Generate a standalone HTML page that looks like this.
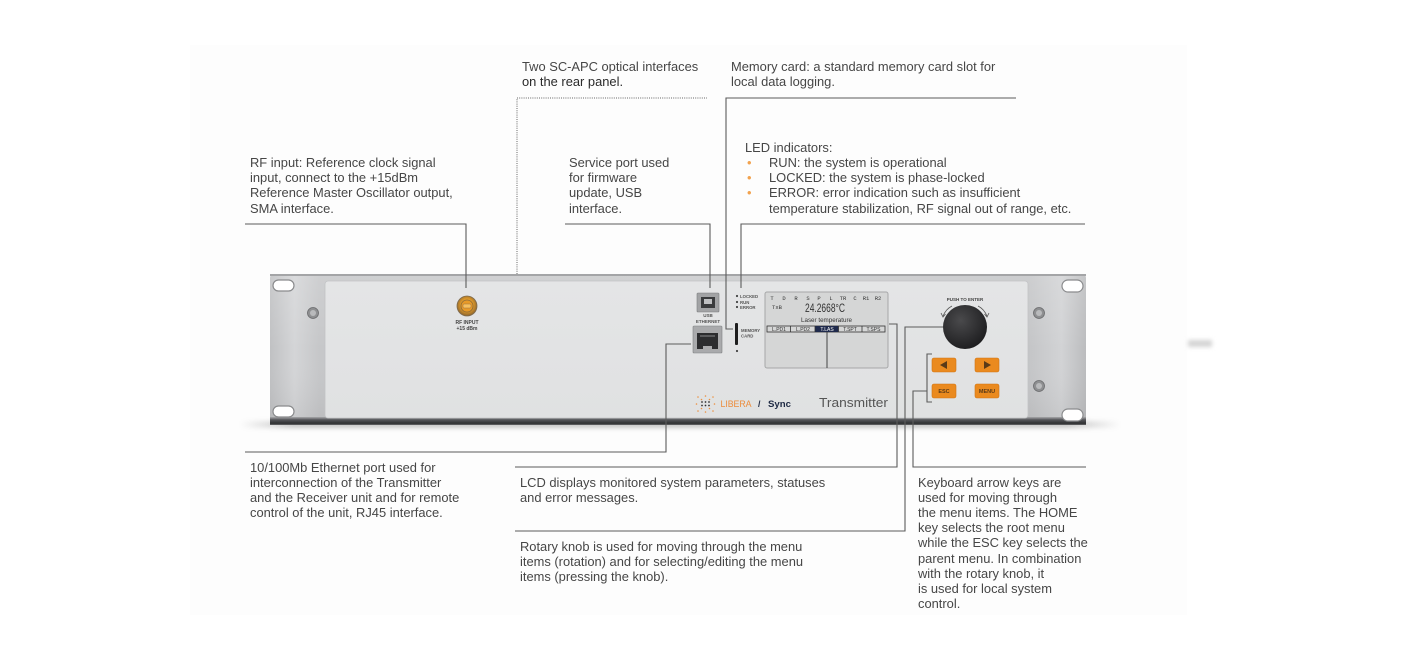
<!DOCTYPE html>
<html><head><meta charset="utf-8">
<style>
html,body{margin:0;padding:0;background:#fff;}
#c{position:relative;width:1406px;height:646px;overflow:hidden;background:#fff;font-family:"Liberation Sans",Arial,sans-serif;}
svg{position:absolute;left:0;top:0;}
.t{position:absolute;font-size:12.9px;line-height:15.2px;color:#464646;white-space:nowrap;}
.d{color:#2a2a2a;}
.bl{position:absolute;left:2px;color:#f2a24e;}
</style></head><body><div id="c">
<svg width="1406" height="646" viewBox="0 0 1406 646">
<defs>
<linearGradient id="rack" x1="0" y1="0" x2="1" y2="0">
<stop offset="0" stop-color="#c0c1c3"/><stop offset="0.03" stop-color="#d4d5d7"/><stop offset="0.06" stop-color="#c6c7c9"/>
<stop offset="0.5" stop-color="#c9cacc"/><stop offset="0.93" stop-color="#c4c5c7"/><stop offset="0.97" stop-color="#d2d3d5"/><stop offset="1" stop-color="#bbbcbe"/>
</linearGradient>
<linearGradient id="rackv" x1="0" y1="0" x2="0" y2="1">
<stop offset="0" stop-color="#ffffff" stop-opacity="0.15"/><stop offset="0.5" stop-color="#ffffff" stop-opacity="0"/><stop offset="1" stop-color="#000" stop-opacity="0.06"/>
</linearGradient>
<linearGradient id="panel" x1="0" y1="0" x2="0" y2="1">
<stop offset="0" stop-color="#e4e5e6"/><stop offset="1" stop-color="#e0e1e2"/>
</linearGradient>
<linearGradient id="band" x1="0" y1="0" x2="0" y2="1">
<stop offset="0" stop-color="#a8a9ab"/><stop offset="0.35" stop-color="#55565a"/><stop offset="0.8" stop-color="#2e2f31"/><stop offset="1" stop-color="#6a6b6d"/>
</linearGradient>
<linearGradient id="shad" x1="0" y1="0" x2="1" y2="0">
<stop offset="0" stop-color="#000" stop-opacity="0"/><stop offset="0.06" stop-color="#000" stop-opacity="0.22"/>
<stop offset="0.94" stop-color="#000" stop-opacity="0.22"/><stop offset="1" stop-color="#000" stop-opacity="0"/>
</linearGradient>
<radialGradient id="sma" cx="0.5" cy="0.45" r="0.6">
<stop offset="0" stop-color="#ffd070"/><stop offset="0.5" stop-color="#e09a2a"/><stop offset="1" stop-color="#7a5a30"/>
</radialGradient>
<radialGradient id="knob" cx="0.4" cy="0.35" r="0.7">
<stop offset="0" stop-color="#4a4a4c"/><stop offset="1" stop-color="#1c1c1e"/>
</radialGradient>
<filter id="blur" x="-10%" y="-300%" width="120%" height="700%"><feGaussianBlur stdDeviation="2.5"/></filter>
<filter id="blur2" x="-50%" y="-200%" width="200%" height="500%"><feGaussianBlur stdDeviation="2"/></filter>
</defs>

<rect x="190" y="45" width="997" height="570" fill="#fdfdfd"/>
<rect x="1188" y="340" width="24" height="7" fill="#d4d4d4" filter="url(#blur2)"/>

<!-- shadow -->
<rect x="240" y="421" width="880" height="7" fill="url(#shad)" filter="url(#blur)"/>

<!-- rack -->
<rect x="270" y="274" width="816" height="151" rx="4" fill="url(#rack)"/>
<rect x="270" y="274" width="816" height="151" rx="4" fill="url(#rackv)"/>
<rect x="270" y="274" width="816" height="2" fill="#a4a5a7"/>
<rect x="270" y="417" width="816" height="8" fill="url(#band)"/>

<!-- slots -->
<rect x="273" y="280" width="21" height="11" rx="5.5" fill="#fff" stroke="#8a8b8d" stroke-width="1.2"/>
<rect x="273" y="406" width="21" height="11" rx="5.5" fill="#fff" stroke="#8a8b8d" stroke-width="1.2"/>
<rect x="1062" y="280" width="21" height="12" rx="6" fill="#fff" stroke="#8a8b8d" stroke-width="1.2"/>
<rect x="1062" y="409" width="21" height="12" rx="6" fill="#fff" stroke="#8a8b8d" stroke-width="1.2"/>
<!-- screws -->
<g fill="#8e8f91" stroke="#6a6b6d" stroke-width="0.8">
<circle cx="313" cy="313" r="5.5"/><circle cx="1039" cy="313" r="5.5"/><circle cx="1039" cy="386" r="5.5"/>
</g>
<g fill="#b9babc"><circle cx="313" cy="313" r="3"/><circle cx="1039" cy="313" r="3"/><circle cx="1039" cy="386" r="3"/></g>

<!-- inner panel -->
<rect x="325" y="281" width="703" height="137" rx="3" fill="url(#panel)" stroke="#c2c3c5" stroke-width="0.8"/>

<!-- SMA -->
<circle cx="467" cy="306" r="10" fill="url(#sma)" stroke="#7d6a50" stroke-width="0.8"/>
<circle cx="467" cy="306" r="6" fill="#e89a28" stroke="#8a6a3a" stroke-width="0.8"/>
<rect x="463" y="304" width="8" height="4" rx="1" fill="#f6c060" stroke="#9a7040" stroke-width="0.5"/>
<text x="467" y="324" font-size="5" font-weight="bold" fill="#444" text-anchor="middle">RF INPUT</text>
<text x="467" y="330" font-size="5" font-weight="bold" fill="#444" text-anchor="middle">+15 dBm</text>

<!-- USB -->
<rect x="697" y="293" width="22" height="19" rx="1" fill="#a2a3a5" stroke="#7c7d7f" stroke-width="0.6"/>
<rect x="701" y="297" width="14" height="11" fill="#3a3b3d"/>
<rect x="704" y="299" width="8" height="5" fill="#bfc0c2"/>
<text x="708" y="317" font-size="4.5" font-weight="bold" fill="#555" text-anchor="middle">USB</text>
<text x="708" y="323" font-size="4.5" font-weight="bold" fill="#555" text-anchor="middle">ETHERNET</text>
<!-- Ethernet -->
<rect x="693" y="326" width="29" height="27" rx="1" fill="#a9aaac" stroke="#7f8082" stroke-width="0.6"/>
<rect x="697" y="333" width="21" height="16" fill="#2c2d2f"/>
<rect x="703" y="346" width="9" height="3" fill="#a9aaac"/>
<rect x="700" y="335" width="15" height="2" fill="#5a5b5d"/>

<!-- LEDs -->
<g fill="#444"><circle cx="737" cy="296" r="1.1"/><circle cx="737" cy="302" r="1.1"/><circle cx="737" cy="307" r="1.1"/><circle cx="737" cy="351" r="1.1"/></g>
<g font-size="4.3" font-weight="bold" fill="#555">
<text x="740" y="298">LOCKED</text><text x="740" y="304">RUN</text><text x="740" y="309">ERROR</text>
<text x="741" y="332">MEMORY</text><text x="741" y="337.5">CARD</text>
</g>
<rect x="735" y="323" width="3" height="22" rx="1" fill="#1e1e1e"/>

<!-- LCD -->
<rect x="765" y="292" width="123" height="76" rx="2" fill="#d5d6d6" stroke="#a6a7a8" stroke-width="1"/>
<g font-family="Liberation Mono, monospace" font-size="5.5" fill="#333" text-anchor="middle">
<text x="772" y="300">T</text><text x="784" y="300">D</text><text x="796" y="300">R</text><text x="808" y="300">S</text><text x="819" y="300">P</text>
<text x="831" y="300">L</text><text x="843" y="300">TR</text><text x="855" y="300">C</text><text x="866" y="300">R1</text><text x="878" y="300">R2</text>
<text x="777" y="309">TxB</text>
</g>
<text x="805" y="312" font-size="11.5" fill="#333" textLength="40" lengthAdjust="spacingAndGlyphs">24.2668°C</text>
<text x="801" y="322" font-size="6" fill="#333" textLength="51" lengthAdjust="spacingAndGlyphs">Laser temperature</text>
<rect x="767" y="326" width="118" height="6" fill="none" stroke="#333" stroke-width="0.8"/>
<rect x="815" y="326" width="23.5" height="6" fill="#1f2a4c"/>
<g stroke="#333" stroke-width="0.8"><line x1="790.6" y1="326" x2="790.6" y2="332"/><line x1="815" y1="326" x2="815" y2="332"/><line x1="838.5" y1="326" x2="838.5" y2="332"/><line x1="862" y1="326" x2="862" y2="332"/></g>
<g font-size="5" fill="#333" text-anchor="middle">
<text x="779" y="331">L.PD1</text><text x="803" y="331">L.PD2</text><text x="827" y="331" fill="#fff">T.LAS</text><text x="850" y="331">T.SPT</text><text x="873.5" y="331">T.SPS</text>
</g>
<line x1="827" y1="332" x2="827" y2="368" stroke="#444" stroke-width="1"/>

<!-- knob -->
<text x="965" y="301" font-size="4.5" font-weight="bold" fill="#444" text-anchor="middle">PUSH TO ENTER</text>
<path d="M952,306 Q946,309 943,316" fill="none" stroke="#555" stroke-width="0.8"/>
<path d="M941,313 L943,317 L945.5,314" fill="none" stroke="#555" stroke-width="0.8"/>
<path d="M978,306 Q984,309 987,316" fill="none" stroke="#555" stroke-width="0.8"/>
<path d="M984.5,314 L987,317 L989,313" fill="none" stroke="#555" stroke-width="0.8"/>
<circle cx="965" cy="327" r="22" fill="url(#knob)"/>

<!-- buttons -->
<g fill="#ea8a1f" stroke="#d07414" stroke-width="0.6">
<rect x="932" y="358" width="24" height="14" rx="2"/><rect x="975" y="358" width="24" height="14" rx="2"/>
<rect x="932" y="384" width="24" height="14" rx="2"/><rect x="975" y="384" width="24" height="14" rx="2"/>
</g>
<path d="M940,365 L947,361 L947,369 Z" fill="#5a3a18"/>
<path d="M991,365 L984,361 L984,369 Z" fill="#5a3a18"/>
<text x="944" y="393" font-size="5.5" font-weight="bold" fill="#5a3a18" text-anchor="middle">ESC</text>
<text x="987" y="393" font-size="5.5" font-weight="bold" fill="#5a3a18" text-anchor="middle">MENU</text>

<!-- logo -->
<g fill="#ec9040">
<circle cx="698" cy="397" r="0.8"/><circle cx="705.5" cy="396" r="0.8"/><circle cx="713" cy="397" r="0.8"/>
<circle cx="696.5" cy="404" r="0.8"/><circle cx="714.5" cy="404" r="0.8"/>
<circle cx="698" cy="411" r="0.8"/><circle cx="705.5" cy="412" r="0.8"/><circle cx="713" cy="411" r="0.8"/>
<circle cx="701.5" cy="399.5" r="0.8"/><circle cx="709.5" cy="399.5" r="0.8"/><circle cx="701.5" cy="408.5" r="0.8"/><circle cx="709.5" cy="408.5" r="0.8"/>
</g>
<g fill="#333">
<circle cx="702" cy="402" r="0.9"/><circle cx="705.5" cy="402" r="0.9"/><circle cx="709" cy="402" r="0.9"/>
<circle cx="702" cy="405.5" r="0.9"/><circle cx="705.5" cy="405.5" r="0.9"/><circle cx="709" cy="405.5" r="0.9"/>
</g>
<text x="720.5" y="407" font-size="8.8" fill="#ec8c3c" textLength="32" lengthAdjust="spacing" letter-spacing="1">LIBERA</text>
<text x="758" y="407" font-size="8.8" font-weight="bold" fill="#1e2a44">/</text>
<text x="768" y="407" font-size="9" font-weight="bold" fill="#1e2a44" textLength="23" lengthAdjust="spacingAndGlyphs">Sync</text>
<text x="819" y="407" font-size="13.2" fill="#555" textLength="69" lengthAdjust="spacingAndGlyphs">Transmitter</text>

<!-- connectors -->
<g fill="none" stroke="#5c5c5c" stroke-width="1.1">
<polyline points="245,224 466,224 466,288"/>
<polyline points="565,224 710,224 710,288"/>
<polyline points="1016,98 726,98 726,329 733,329"/>
<polyline points="1085,224 741,224 741,288"/>
<polyline points="245,452 666,452 666,344 691,344"/>
<polyline points="515,467 897,467 897,324 889,324"/>
<polyline points="515,531 905,531 905,327 943,327"/>
<polyline points="1086,467 913,467 913,391 927,391"/>
<polyline points="932,354 927,354 927,402 932,402"/>
</g>
<polyline points="517,274 517,98 707,98" fill="none" stroke="#666" stroke-width="1" stroke-dasharray="1,1.2"/>
</svg>

<div class="t" style="left:522px;top:59px;">Two SC-APC optical interfaces<br><span class="d">on the rear panel.</span></div>
<div class="t" style="left:731px;top:59px;">Memory card: a standard memory card slot for<br>local data logging.</div>
<div class="t" style="left:250px;top:155px;">RF input: Reference clock signal<br>input, connect to the +15dBm<br>Reference Master Oscillator output,<br>SMA interface.</div>
<div class="t" style="left:569px;top:155px;">Service port used<br>for firmware<br>update, USB<br>interface.</div>
<div class="t" style="left:745px;top:140px;">LED indicators:</div>
<div class="t" style="left:745px;top:155px;width:340px;">
<span class="bl" style="top:0">•</span><span class="bl" style="top:15.2px">•</span><span class="bl" style="top:30.4px">•</span>
<div style="padding-left:24px;">RUN: the system is operational<br>LOCKED: the system is phase-locked<br>ERROR: error indication such as insufficient<br>temperature stabilization, RF signal out of range, etc.</div>
</div>
<div class="t" style="left:250px;top:459.5px;">10/100Mb Ethernet port used for<br>interconnection of the Transmitter<br>and the Receiver unit and for remote<br>control of the unit, RJ45 interface.</div>
<div class="t" style="left:520px;top:474.5px;">LCD displays monitored system parameters, statuses<br>and error messages.</div>
<div class="t" style="left:520px;top:538.5px;">Rotary knob is used for moving through the menu<br>items (rotation) and for selecting/editing the menu<br>items (pressing the knob).</div>
<div class="t" style="left:918px;top:474.5px;">Keyboard arrow keys are<br>used for moving through<br>the menu items. The HOME<br>key selects the root menu<br>while the ESC key selects the<br>parent menu. In combination<br>with the rotary knob, it<br>is used for local system<br>control.</div>
</div></body></html>
